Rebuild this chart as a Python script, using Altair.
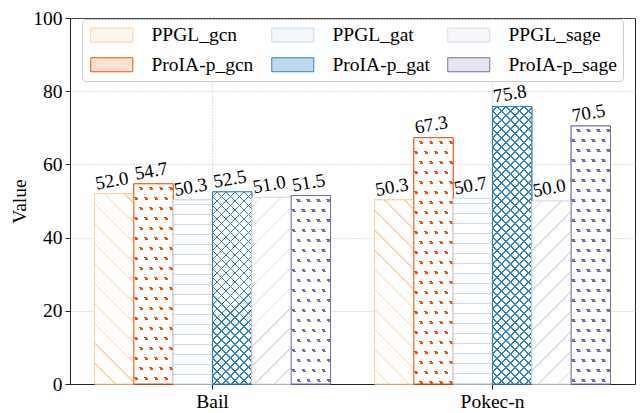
import math
import altair as alt
import pandas as pd

groups = ["Bail", "Pokec-n"]
bar_order = ["PPGL_gcn", "ProIA-p_gcn", "PPGL_gat", "ProIA-p_gat", "PPGL_sage", "ProIA-p_sage"]
values = {
    "PPGL_gcn": [52.0, 50.3],
    "ProIA-p_gcn": [54.7, 67.3],
    "PPGL_gat": [50.3, 50.7],
    "ProIA-p_gat": [52.5, 75.8],
    "PPGL_sage": [51.0, 50.0],
    "ProIA-p_sage": [51.5, 70.5],
}
edge_colors = {
    "PPGL_gcn": "#fdd0a2", "ProIA-p_gcn": "#e6550d",
    "PPGL_gat": "#c6dbef", "ProIA-p_gat": "#3182bd",
    "PPGL_sage": "#dadaeb", "ProIA-p_sage": "#756bb1",
}
fill_colors = {
    "PPGL_gcn": "#fff6ee", "ProIA-p_gcn": "#fce0d0",
    "PPGL_gat": "#f2f7fc", "ProIA-p_gat": "#bfd8ed",
    "PPGL_sage": "#f7f7fb", "ProIA-p_sage": "#e6e4f1",
}
CLEAR = "rgba(255,255,255,0)"
# hatch layers per series: (normal x, normal y, spacing px, line width px, line colour, background)
hatches = {
    "PPGL_gcn": [(1, -1, 14.1, 1.1, "edge", "#ffffff")],
    "ProIA-p_gcn": [(0, 1, 10, 2.6, "edge", "#ffffff"), (2, -1, 8.94, 2.6, CLEAR, "#ffffff")],
    "PPGL_gat": [(0, 1, 10, 1.1, "edge", "#ffffff")],
    "ProIA-p_gat": [(1, -1, 6.36, 1.1, "edge", "#ffffff"), (1, 1, 6.36, 1.1, "edge", CLEAR)],
    "PPGL_sage": [(1, 1, 14.1, 1.1, "edge", "#ffffff")],
    "ProIA-p_sage": [(0, 1, 10, 3.0, "edge", "#ffffff"), (2, -1, 8.94, 3.0, CLEAR, "#ffffff")],
}

rows = []
for s in bar_order:
    for g, v in zip(groups, values[s]):
        rows.append({"group": g, "series": s, "value": v})
df = pd.DataFrame(rows)

FONT = "Liberation Serif"
FS = 19.5
W, H = 565, 366
P_IN, P_OUT = 0.157, 0.0875
step = W / (len(groups) - P_IN + 2 * P_OUT)
bar_w = step * (1 - P_IN) / len(bar_order)


def line_gradient(nx, ny, spacing, lw, w, h, color, bg):
    n = math.hypot(nx, ny)
    nx, ny = nx / n, ny / n
    corners = [(0, 0), (1, 0), (0, 1), (1, 1)]
    svals = [nx * u * w + ny * v * h for u, v in corners]
    smin, smax = min(svals), max(svals)
    u1, v1 = corners[svals.index(smin)]
    D = nx * nx * w * w + ny * ny * h * h
    c = (smax - smin) / D
    x2, y2 = u1 + c * nx * w, v1 + c * ny * h
    span = smax - smin
    half = lw / 2 / span
    j0 = math.floor((smin - lw) / spacing)
    j1 = math.ceil((smax + lw) / spacing)
    centers = [((j + 0.5) * spacing - smin) / span for j in range(j0, j1 + 1)]
    stops = [{"offset": 0.0, "color": bg}]
    for t in sorted(centers):
        a, b = max(0.0, t - half), min(1.0, t + half)
        if b <= 0 or a >= 1:
            continue
        stops += [{"offset": a, "color": bg}, {"offset": a, "color": color},
                  {"offset": b, "color": color}, {"offset": b, "color": bg}]
    stops.append({"offset": 1.0, "color": bg})
    return {"gradient": "linear", "x1": u1, "y1": v1, "x2": x2, "y2": y2, "stops": stops}


x_enc = alt.X("group:N", sort=groups, title=None,
              scale=alt.Scale(paddingInner=P_IN, paddingOuter=P_OUT),
              axis=alt.Axis(labelAngle=0, labelFontSize=FS, labelFont=FONT, labelColor="black",
                            grid=True, bandPosition=0.5, tickSize=5, labelPadding=3))
xoff_enc = alt.XOffset("series:N", sort=bar_order, scale=alt.Scale(paddingInner=0, paddingOuter=0))
y_enc = alt.Y("value:Q", title="Value",
              scale=alt.Scale(domain=[0, 100], nice=False),
              axis=alt.Axis(values=[0, 20, 40, 60, 80, 100], labelFontSize=FS, labelFont=FONT,
                            labelColor="black", titleFontSize=FS, titleFont=FONT, titleColor="black",
                            titleFontWeight="normal", tickSize=5, labelPadding=3, titlePadding=3))

bars = alt.Chart(df).mark_bar(strokeWidth=1).encode(
    x=x_enc,
    xOffset=xoff_enc,
    y=y_enc,
    fill=alt.Fill("series:N", title=None,
                  scale=alt.Scale(domain=bar_order, range=[fill_colors[s] for s in bar_order]),
                  legend=alt.Legend(orient="none", legendX=12, legendY=1, columns=3,
                                    symbolType="M-3,-1H3V1H-3Z", symbolSize=196,
                                    symbolOffset=14, labelOffset=30,
                                    labelFont=FONT, labelFontSize=FS, labelColor="black",
                                    columnPadding=15, rowPadding=9, padding=6,
                                    fillColor="rgba(255,255,255,0.85)", strokeColor="#cccccc",
                                    cornerRadius=4, symbolStrokeWidth=1, labelLimit=200)),
    stroke=alt.Stroke("series:N", title=None,
                      scale=alt.Scale(domain=bar_order, range=[edge_colors[s] for s in bar_order])),
)

layers = [bars]
for s, specs in hatches.items():
    for g, v in zip(groups, values[s]):
        h = v / 100 * H
        for i, (nx, ny, sp, lw, col, bg) in enumerate(specs):
            color = edge_colors[s] if col == "edge" else col
            grad = line_gradient(nx, ny, sp, lw, bar_w, h, color, bg)
            last = i == len(specs) - 1
            mark_kw = dict(fill=grad, stroke=edge_colors[s] if last else "transparent",
                           strokeWidth=1 if last else 0)
            layers.append(
                alt.Chart(df).transform_filter(
                    (alt.datum.series == s) & (alt.datum.group == g)
                ).mark_bar(**mark_kw).encode(
                    x=alt.X("group:N", sort=groups),
                    xOffset=xoff_enc,
                    y=alt.Y("value:Q"),
                )
            )

labels = alt.Chart(df).mark_text(font=FONT, fontSize=19, color="black", baseline="bottom",
                                 align="center", angle=350, dy=-3).encode(
    x=alt.X("group:N", sort=groups),
    xOffset=xoff_enc,
    y=alt.Y("value:Q"),
    text=alt.Text("value:Q", format=".1f"),
)
layers.append(labels)

chart = alt.layer(*layers).properties(
    width=W, height=H,
    autosize=alt.AutoSizeParams(type="none"),
    padding={"left": 62, "top": 10, "right": 1, "bottom": 28},
).configure_view(stroke="#222", strokeWidth=1).configure_axis(
    domainColor="#222", tickColor="#222", gridColor="#b0b0b0", gridDash=[1, 2], gridWidth=0.8,
)

chart.save("out.html", embed_options={"renderer": "svg", "actions": False})
